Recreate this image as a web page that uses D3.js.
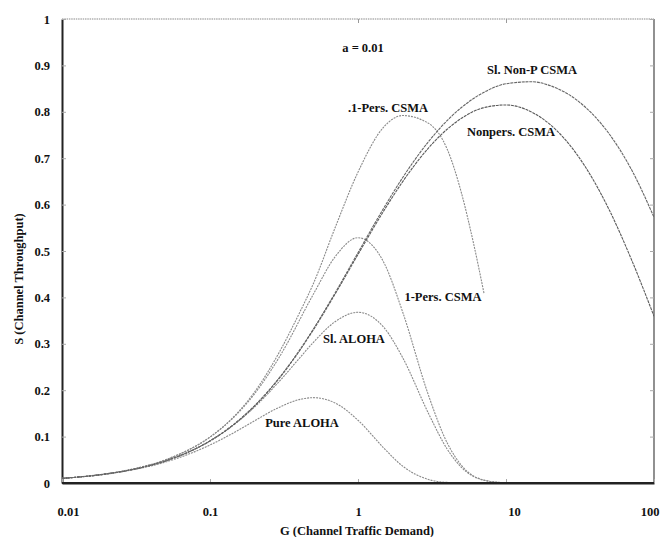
<!DOCTYPE html>
<html>
<head>
<meta charset="utf-8">
<script src="https://cdn.jsdelivr.net/npm/d3@7/dist/d3.min.js"></script>
<style>
  html, body { margin: 0; padding: 0; background: #fff; }
  svg { display: block; }
  text { font-family: "Liberation Serif", "DejaVu Serif", serif; font-weight: bold; fill: #111; }
</style>
</head>
<body>
<svg id="chart" width="660" height="537"></svg>
<script>
// ---- Data ----
const xTicks = [0.01, 0.1, 1, 10, 100];
const xTickLabels = ["0.01", "0.1", "1", "10", "100"];
const yTicks = [0, 0.1, 0.2, 0.3, 0.4, 0.5, 0.6, 0.7, 0.8, 0.9, 1];
const yTickLabels = ["0", "0.1", "0.2", "0.3", "0.4", "0.5", "0.6", "0.7", "0.8", "0.9", "1"];

const gAloha = [0.01, 0.02, 0.03, 0.05, 0.07, 0.1, 0.15, 0.2, 0.3, 0.4, 0.5, 0.7, 1, 1.5, 2, 3, 4, 5, 7, 10];
const pureAloha = [0.0098, 0.0192, 0.0283, 0.0452, 0.0609, 0.0819, 0.1111, 0.1341, 0.1646, 0.1797, 0.1839, 0.1726, 0.1353, 0.0747, 0.0366, 0.0074, 0.0013, 0.0002, 0, 0];

const gSlAloha = [0.01, 0.02, 0.03, 0.05, 0.07, 0.1, 0.15, 0.2, 0.3, 0.4, 0.5, 0.7, 1, 1.5, 2, 3, 4, 5, 7, 10, 15];
const slAloha = [0.0099, 0.0196, 0.0291, 0.0476, 0.0653, 0.0905, 0.1291, 0.1637, 0.2222, 0.2681, 0.3033, 0.3476, 0.3679, 0.3347, 0.2707, 0.1494, 0.0733, 0.0337, 0.0064, 0.0005, 0];

const gOnePers = [0.01, 0.02, 0.05, 0.1, 0.15, 0.2, 0.3, 0.5, 0.7, 1, 1.5, 2, 3, 4, 5, 7, 10];
const onePers = [0.0100, 0.0200, 0.0498, 0.0989, 0.1465, 0.1921, 0.2760, 0.4072, 0.4875, 0.5286, 0.4742, 0.3692, 0.1882, 0.0867, 0.0380, 0.0067, 0.0004];

const gPointOnePers = [0.01, 0.02, 0.03, 0.05, 0.07, 0.1, 0.15, 0.2, 0.3, 0.4, 0.5, 0.7, 1, 1.5, 2, 3, 4, 5, 6, 7.1];
const pointOnePers = [0.0100, 0.0200, 0.0300, 0.0499, 0.0698, 0.0990, 0.1480, 0.1960, 0.2870, 0.3650, 0.4300, 0.5500, 0.6700, 0.7680, 0.7920, 0.7750, 0.7200, 0.6250, 0.5200, 0.4090];

const gCsma = [0.01, 0.02, 0.03, 0.05, 0.07, 0.1, 0.15, 0.2, 0.3, 0.4, 0.5, 0.7, 1, 1.5, 2, 3, 4, 5, 7, 10, 15, 20, 30, 50, 70, 100];
const nonPers = [0.0099, 0.0196, 0.0291, 0.0476, 0.0653, 0.0907, 0.1301, 0.1661, 0.2295, 0.2838, 0.3306, 0.4072, 0.4926, 0.5875, 0.6491, 0.7223, 0.7624, 0.7860, 0.8085, 0.8148, 0.7989, 0.7717, 0.7091, 0.5877, 0.4835, 0.3594];
const slNonPers = [0.0099, 0.0196, 0.0291, 0.0476, 0.0654, 0.0908, 0.1303, 0.1664, 0.2302, 0.2847, 0.3320, 0.4095, 0.4963, 0.5937, 0.6578, 0.7360, 0.7810, 0.8093, 0.8410, 0.8604, 0.8648, 0.8561, 0.8256, 0.7516, 0.6771, 0.5729];

const seriesNames = ["Pure ALOHA", "Sl. ALOHA", "1-Pers. CSMA", ".1-Pers. CSMA", "Nonpers. CSMA", "Sl. Non-P CSMA"];

// ---- Layout ----
const svg = d3.select("#chart");
const mLeft = 62, mRight = 654, mTop = 19, mBottom = 483;
const FS = 12.5;

const x = d3.scaleLog().domain([0.01, 100]).range([mLeft, mRight]);
const y = d3.scaleLinear().domain([0, 1]).range([mBottom, mTop]);

// frame (top and right, thin)
svg.append("line").attr("x1", mLeft).attr("x2", mRight).attr("y1", mTop).attr("y2", mTop)
  .attr("stroke", "#8a8a8a").attr("stroke-width", 1.2).attr("stroke-dasharray", "1.5,0.8");
svg.append("line").attr("x1", mRight).attr("x2", mRight).attr("y1", mTop).attr("y2", mBottom)
  .attr("stroke", "#555").attr("stroke-width", 1.3);

// axes
const yAxis = d3.axisLeft(y).tickValues(yTicks).tickFormat((d, i) => yTickLabels[i])
  .tickSizeInner(-4).tickSizeOuter(0).tickPadding(12);
const gy = svg.append("g").attr("transform", `translate(${mLeft},0)`).call(yAxis);
gy.select(".domain").attr("stroke", "#222").attr("stroke-width", 2);
gy.selectAll(".tick line").attr("stroke", "#aaa");
gy.selectAll(".tick text").attr("font-size", FS).attr("font-family", "Liberation Serif, serif").attr("font-weight", "bold").attr("fill", "#111");

const yAxisR = d3.axisRight(y).tickValues(yTicks).tickFormat("").tickSizeInner(-4).tickSizeOuter(0);
const gyr = svg.append("g").attr("transform", `translate(${mRight},0)`).call(yAxisR);
gyr.select(".domain").remove();
gyr.selectAll(".tick line").attr("stroke", "#aaa");

const xAxis = d3.axisBottom(x).tickValues(xTicks).tickFormat((d, i) => xTickLabels[i])
  .tickSizeInner(-4).tickSizeOuter(0).tickPadding(24);
const gx = svg.append("g").attr("transform", `translate(0,${mBottom})`).call(xAxis);
gx.select(".domain").attr("stroke", "#222").attr("stroke-width", 2);
gx.selectAll(".tick line").attr("stroke", "#aaa");
gx.selectAll(".tick text").attr("font-size", FS).attr("font-family", "Liberation Serif, serif").attr("font-weight", "bold").attr("fill", "#111")
  .attr("dx", (d, i) => i === 0 ? 6 : (i === 3 ? 8 : 0))
  .attr("text-anchor", (d, i) => i === 4 ? "end" : "middle")
  .attr("x", (d, i) => i === 4 ? 5 : 0);

const xAxisT = d3.axisTop(x).tickValues([1, 10]).tickFormat("").tickSizeInner(-4).tickSizeOuter(0);
const gxt = svg.append("g").attr("transform", `translate(0,${mTop})`).call(xAxisT);
gxt.select(".domain").remove();
gxt.selectAll(".tick line").attr("stroke", "#999");

// curves
const line = d3.line().x(d => x(d[0])).y(d => y(d[1])).curve(d3.curveMonotoneX);
const zip = (gs, ss) => gs.map((g, i) => [g, ss[i]]);
const curves = [
  { data: zip(gAloha, pureAloha), color: "#8a8a8a", dash: "2,1" },
  { data: zip(gSlAloha, slAloha), color: "#8a8a8a", dash: "2,1" },
  { data: zip(gOnePers, onePers), color: "#8a8a8a", dash: "2,1" },
  { data: zip(gPointOnePers, pointOnePers), color: "#8a8a8a", dash: "2,1" },
  { data: zip(gCsma, nonPers), color: "#5a5a5a", dash: "3,0.8" },
  { data: zip(gCsma, slNonPers), color: "#666", dash: "3,0.8" }
];
svg.append("defs").append("clipPath").attr("id", "plot")
  .append("rect").attr("x", mLeft).attr("y", mTop).attr("width", mRight - mLeft).attr("height", mBottom - mTop);
const gc = svg.append("g").attr("clip-path", "url(#plot)");
curves.forEach(c => {
  gc.append("path").attr("d", line(c.data)).attr("fill", "none")
    .attr("stroke", c.color).attr("stroke-width", 1.1).attr("stroke-dasharray", c.dash);
});
// redraw bottom axis line on top
svg.append("line").attr("x1", mLeft).attr("x2", mRight).attr("y1", mBottom).attr("y2", mBottom)
  .attr("stroke", "#222").attr("stroke-width", 2);

// labels
const labels = [
  { t: seriesNames[0], x: 302, y: 427 },
  { t: seriesNames[1], x: 354, y: 343 },
  { t: seriesNames[2], x: 443, y: 301 },
  { t: seriesNames[3], x: 388, y: 112 },
  { t: seriesNames[4], x: 511, y: 136 },
  { t: seriesNames[5], x: 532, y: 74 },
  { t: "a = 0.01", x: 363, y: 52 }
];
svg.selectAll("text.lbl").data(labels).enter().append("text").attr("class", "lbl")
  .attr("x", d => d.x).attr("y", d => d.y).attr("text-anchor", "middle")
  .attr("font-size", FS).text(d => d.t);

svg.append("text").attr("x", 357).attr("y", 535).attr("text-anchor", "middle")
  .attr("font-size", FS).text("G (Channel Traffic Demand)");
svg.append("text").attr("transform", "translate(23,279) rotate(-90)").attr("text-anchor", "middle")
  .attr("font-size", FS).text("S (Channel Throughput)");
</script>
</body>
</html>
